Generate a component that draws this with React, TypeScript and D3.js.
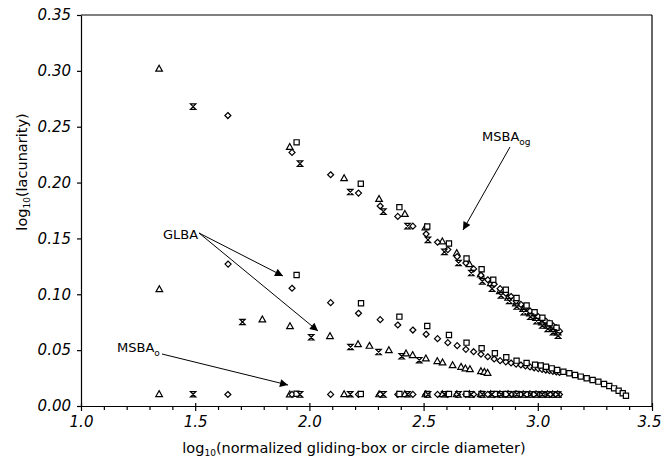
import React, { useRef, useEffect } from 'react'
import { select, scaleLinear, axisBottom, axisLeft, format, range } from 'd3'

// upper group (MSBA_og)
const ogTriangle = [[1.342,0.302],[1.914,0.232],[2.152,0.204],[2.305,0.1855],[2.418,0.172],[2.508,0.160],[2.582,0.1475],[2.645,0.137],[2.701,0.127],[2.750,0.118],[2.794,0.110],[2.834,0.103],[2.870,0.097],[2.904,0.092],[2.936,0.087],[2.965,0.083],[2.992,0.079],[3.018,0.075],[3.042,0.072],[3.065,0.069],[3.087,0.066]]
const ogHourglass = [[1.491,0.268],[1.959,0.217],[2.179,0.1915],[2.324,0.174],[2.430,0.161],[2.519,0.1487],[2.591,0.138],[2.653,0.128],[2.709,0.119],[2.757,0.1116],[2.800,0.105],[2.839,0.099],[2.875,0.094],[2.908,0.089],[2.939,0.084],[2.968,0.080],[2.995,0.076],[3.020,0.072],[3.044,0.069],[3.067,0.066],[3.089,0.063]]
const ogDiamond = [[1.643,0.260],[1.924,0.227],[2.093,0.207],[2.215,0.1906],[2.310,0.179],[2.387,0.1697],[2.453,0.161],[2.511,0.154],[2.561,0.1466],[2.606,0.140],[2.647,0.1337],[2.685,0.128],[2.719,0.1227],[2.751,0.117],[2.781,0.113],[2.809,0.109],[2.835,0.105],[2.860,0.101],[2.883,0.098],[2.905,0.094],[2.926,0.091],[2.946,0.088],[2.966,0.085],[2.984,0.083],[3.002,0.080],[3.019,0.078],[3.035,0.076],[3.051,0.074],[3.066,0.072],[3.081,0.070],[3.095,0.067]]
const ogSquare = [[1.944,0.236],[2.225,0.199],[2.394,0.178],[2.516,0.1607],[2.611,0.1454],[2.688,0.132],[2.754,0.1224],[2.805,0.113],[2.860,0.104],[2.907,0.0967],[2.951,0.090],[2.986,0.084],[3.020,0.079],[3.052,0.074],[3.082,0.070]]

// middle group (GLBA)
const glTriangle = [[1.343,0.1047],[1.794,0.0776],[1.915,0.0716],[2.09,0.0627],[2.213,0.0555],[2.263,0.054],[2.348,0.0501],[2.423,0.0472],[2.452,0.0457],[2.51,0.0427],[2.56,0.0403],[2.583,0.0391],[2.627,0.0367],[2.664,0.0352],[2.683,0.0338],[2.703,0.0331],[2.751,0.0313],[2.766,0.0307],[2.78,0.0298]]
const glHourglass = [[1.707,0.0752],[2.008,0.0615],[2.18,0.0528],[2.303,0.0483],[2.404,0.0445],[2.481,0.041]]
const glDiamond = [[1.644,0.127],[1.924,0.1054],[2.093,0.0925],[2.215,0.083],[2.310,0.0773],[2.387,0.0725],[2.453,0.068],[2.511,0.0642],[2.561,0.0603],[2.606,0.0567],[2.647,0.054],[2.685,0.0507],[2.719,0.0486],[2.751,0.0463],[2.781,0.0441],[2.809,0.0421],[2.835,0.0406],[2.860,0.0395],[2.883,0.0385],[2.905,0.0375],[2.926,0.0367],[2.946,0.0358],[2.966,0.035],[2.984,0.0342],[3.002,0.0335],[3.019,0.0328],[3.035,0.0322],[3.051,0.0316],[3.066,0.031],[3.081,0.0305],[3.095,0.030]]
const glSquare = [[1.944,0.1173],[2.226,0.092],[2.394,0.080],[2.516,0.0716],[2.611,0.0636],[2.688,0.0567],[2.754,0.0517],[2.812,0.0472],[2.862,0.0436],[2.907,0.0406],[2.951,0.0385],[2.988,0.0370],[3.013,0.0362],[3.036,0.0352],[3.061,0.0337],[3.085,0.0322],[3.112,0.0307],[3.138,0.0293],[3.163,0.0278],[3.188,0.0263],[3.214,0.0248],[3.240,0.0233],[3.265,0.0218],[3.290,0.0197],[3.313,0.0179],[3.334,0.0158],[3.354,0.0137],[3.372,0.0114],[3.386,0.0092]]

// bottom group (MSBA_o)
const oTriangle = [[1.342,0.0108],[1.914,0.0105],[2.152,0.0107],[2.305,0.0106],[2.418,0.0107],[2.508,0.0106],[2.582,0.0107],[2.645,0.0106],[2.701,0.0107],[2.750,0.0106],[2.794,0.0107],[2.834,0.0106],[2.870,0.0107],[2.904,0.0106],[2.936,0.0106],[2.965,0.0106],[2.992,0.0106],[3.018,0.0105],[3.042,0.0106],[3.065,0.0105],[3.087,0.0105]]
const oHourglass = [[1.491,0.0105],[1.959,0.0104],[2.179,0.0105],[2.324,0.0104],[2.430,0.0105],[2.519,0.0104],[2.591,0.0105],[2.653,0.0104],[2.709,0.0104],[2.757,0.0104],[2.800,0.0104],[2.839,0.0104],[2.875,0.0104],[2.908,0.0104],[2.939,0.0103],[2.968,0.0103],[2.995,0.0103],[3.020,0.0103],[3.044,0.0103],[3.067,0.0103],[3.089,0.0103]]
const oDiamond = [[1.643,0.0103],[1.924,0.0104],[2.093,0.0104],[2.215,0.0104],[2.310,0.0104],[2.387,0.0104],[2.453,0.0104],[2.511,0.0104],[2.561,0.0104],[2.606,0.0104],[2.647,0.0104],[2.685,0.0104],[2.719,0.0104],[2.751,0.0104],[2.781,0.0104],[2.809,0.0104],[2.835,0.0104],[2.860,0.0104],[2.883,0.0104],[2.905,0.0104],[2.926,0.0103],[2.946,0.0103],[2.966,0.0103],[2.984,0.0103],[3.002,0.0103],[3.019,0.0103],[3.035,0.0103],[3.051,0.0103],[3.066,0.0103],[3.081,0.0103],[3.095,0.0103]]
const oSquare = [[1.944,0.0110],[2.225,0.0108],[2.394,0.0108],[2.516,0.0108],[2.611,0.0107],[2.688,0.0107],[2.754,0.0107],[2.812,0.0107],[2.862,0.0107],[2.907,0.0107],[2.948,0.0106],[2.986,0.0106],[3.020,0.0106],[3.052,0.0106],[3.082,0.0106]]

const xMajor = [1.0, 1.5, 2.0, 2.5, 3.0, 3.5]
const yTicks = [0, 0.05, 0.10, 0.15, 0.20, 0.25, 0.30, 0.35]

const width = 662
const height = 460
const FONT = '"DejaVu Sans", Verdana, sans-serif'

const x = scaleLinear().domain([1, 3.5]).range([81, 652])
const y = scaleLinear().domain([0, 0.35]).range([406, 15])

const shapes = {
  triangle: 'M0,-3.3L3.3,2.6L-3.3,2.6Z',
  diamond: 'M0,-3L3,0L0,3L-3,0Z',
  square: 'M-2.6,-2.6H2.6V2.6H-2.6Z',
  hourglass: 'M-2.7,-2.7H2.7L-2.7,2.7H2.7Z',
}

const Points = ({ data, shape }) => (
  <g>
    {data.map(([a, b], i) => (
      <path key={i} d={shapes[shape]} transform={`translate(${x(a)},${y(b)})`}
        fill="white" stroke="black" strokeWidth={1.2} />
    ))}
  </g>
)

const App = () => {
  const xAxisRef = useRef(null)
  const xMinorRef = useRef(null)
  const yAxisRef = useRef(null)

  useEffect(() => {
    const minor = range(11, 35).filter(v => v % 5 !== 0).map(v => v / 10)
    select(xMinorRef.current)
      .call(axisBottom(x).tickValues(minor).tickFormat(() => '').tickSize(4))
      .call(g => g.select('.domain').remove())
    select(xAxisRef.current)
      .call(axisBottom(x).tickValues(xMajor).tickFormat(format('.1f')).tickSize(5).tickPadding(5).tickSizeOuter(0))
      .call(g => g.selectAll('.tick line').attr('y1', -3))
      .call(g => g.select('.tick:last-of-type text').attr('dx', -3))
    select(yAxisRef.current)
      .call(axisLeft(y).tickValues(yTicks).tickFormat(format('.2f')).tickSize(4).tickPadding(6).tickSizeOuter(0))
    ;[xAxisRef, yAxisRef].forEach(r => {
      const g = select(r.current)
      g.attr('font-family', FONT).attr('font-size', 15)
      g.selectAll('text').attr('font-style', 'italic').attr('fill', 'black')
      g.selectAll('line, path').attr('stroke', 'black').attr('stroke-width', 1.2)
    })
    select(xMinorRef.current).selectAll('line').attr('stroke', 'black').attr('stroke-width', 1.2)
  }, [])

  return (
    <svg width={width} height={height} style={{ position: 'absolute', left: 0, top: 0, background: 'white' }}>
      <defs>
        <marker id="ah" viewBox="0 0 10 10" refX="10" refY="5" markerWidth="10" markerHeight="8"
          markerUnits="userSpaceOnUse" orient="auto">
          <path d="M0,0L10,5L0,10Z" fill="black" />
        </marker>
      </defs>
      <rect x={0} y={0} width={width} height={height} fill="white" />
      <line x1={81} y1={15} x2={652} y2={15} stroke="black" strokeWidth={1.2} />
      <line x1={652} y1={15} x2={652} y2={406} stroke="black" strokeWidth={1.2} />
      <g ref={xMinorRef} transform="translate(0,406)" />
      <g ref={xAxisRef} transform="translate(0,406)" />
      <g ref={yAxisRef} transform="translate(81,0)" />

      <Points data={ogTriangle} shape="triangle" />
      <Points data={glTriangle} shape="triangle" />
      <Points data={oTriangle} shape="triangle" />
      <Points data={ogDiamond} shape="diamond" />
      <Points data={glDiamond} shape="diamond" />
      <Points data={oDiamond} shape="diamond" />
      <Points data={ogSquare} shape="square" />
      <Points data={glSquare} shape="square" />
      <Points data={oSquare} shape="square" />
      <Points data={ogHourglass} shape="hourglass" />
      <Points data={glHourglass} shape="hourglass" />
      <Points data={oHourglass} shape="hourglass" />

      {/* annotations */}
      <g fontFamily={FONT} fontSize={13} fill="black">
        <text x={482} y={141}>MSBA<tspan fontSize={9} dy={4}>og</tspan></text>
        <text x={163} y={239}>GLBA</text>
        <text x={117} y={352}>MSBA<tspan fontSize={9} dy={4}>o</tspan></text>
      </g>
      <g stroke="black" strokeWidth={1}>
        <line x1={510} y1={147} x2={463} y2={230} markerEnd="url(#ah)" />
        <line x1={199} y1={233} x2={283} y2={276} markerEnd="url(#ah)" />
        <line x1={199} y1={233} x2={318} y2={331} markerEnd="url(#ah)" />
        <line x1={162} y1={354} x2={288} y2={385} markerEnd="url(#ah)" />
      </g>

      <g fontFamily={FONT} fontSize={14.5} fill="black">
        <text x={354} y={453} textAnchor="middle">
          log<tspan fontSize={9} dy={3}>10</tspan><tspan dy={-3}>(normalized gliding-box or circle diameter)</tspan>
        </text>
        <text transform="translate(27,172) rotate(-90)" textAnchor="middle">
          log<tspan fontSize={9} dy={3}>10</tspan><tspan dy={-3}>(lacunarity)</tspan>
        </text>
      </g>
    </svg>
  )
}

export default App
